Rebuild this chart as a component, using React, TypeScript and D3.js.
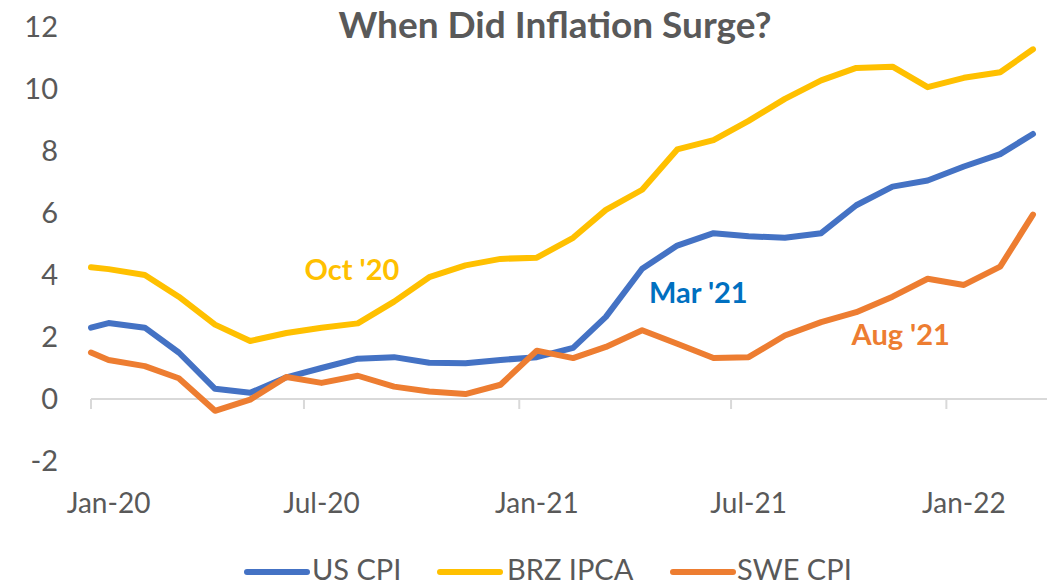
import React from "react";
import * as d3 from "d3";

const title = "When Did Inflation Surge?";

// observation dates (first point is Dec-19 reading plotted at axis start)
const dates = [
  "2020-01-01", "2020-01-16", "2020-02-16", "2020-03-16", "2020-04-16", "2020-05-16", "2020-06-16",
  "2020-07-16", "2020-08-16", "2020-09-16", "2020-10-16", "2020-11-16", "2020-12-16",
  "2021-01-16", "2021-02-16", "2021-03-16", "2021-04-16", "2021-05-16", "2021-06-16",
  "2021-07-16", "2021-08-16", "2021-09-16", "2021-10-16", "2021-11-16", "2021-12-16",
  "2022-01-16", "2022-02-16", "2022-03-16",
];

const usCPI = [2.3, 2.45, 2.3, 1.5, 0.33, 0.2, 0.7, 1.0, 1.3, 1.35, 1.17, 1.15, 1.26,
  1.35, 1.65, 2.65, 4.2, 4.95, 5.35, 5.25, 5.2, 5.35, 6.25, 6.85, 7.05, 7.5, 7.9, 8.55];
const brzIPCA = [4.25, 4.19, 4.0, 3.3, 2.4, 1.87, 2.13, 2.3, 2.44, 3.14, 3.93, 4.31, 4.52,
  4.56, 5.2, 6.1, 6.75, 8.05, 8.35, 8.97, 9.68, 10.28, 10.68, 10.72, 10.06, 10.36, 10.54, 11.28];
const sweCPI = [1.5, 1.26, 1.06, 0.67, -0.38, -0.02, 0.71, 0.52, 0.75, 0.4, 0.24, 0.16, 0.46,
  1.56, 1.32, 1.68, 2.22, 1.78, 1.32, 1.35, 2.05, 2.48, 2.8, 3.3, 3.88, 3.68, 4.27, 5.95];

const seriesNames = ["US CPI", "BRZ IPCA", "SWE CPI"];
const seriesColors = ["#4472C4", "#FFC000", "#ED7D31"];

const yTicks = [-2, 0, 2, 4, 6, 8, 10, 12];
const xTickDates = ["2020-01-01", "2020-07-01", "2021-01-01", "2021-07-01", "2022-01-01"];
const xTickLabels = ["Jan-20", "Jul-20", "Jan-21", "Jul-21", "Jan-22"];
const xLabelDates = ["2020-01-16", "2020-07-16", "2021-01-16", "2021-07-16", "2022-01-16"];

const annotations = [
  { text: "Oct '20", date: "2020-08-11", value: 3.84, color: "#FFC000" },
  { text: "Mar '21", date: "2021-06-03", value: 3.1, color: "#0070C0" },
  { text: "Aug '21", date: "2021-11-23", value: 1.74, color: "#ED7D31" },
];

const W = 1049;
const H = 586;
const FONT = "Lato, 'Open Sans', sans-serif";
const GRAY = "#595959";

export default function App() {
  const parse = d3.timeParse("%Y-%m-%d");
  const x = d3.scaleTime()
    .domain([parse("2020-01-01")!, parse("2022-03-28")!])
    .range([91, 1047]);
  const y = d3.scaleLinear().domain([0, 12]).range([399, 27]);

  const series = [usCPI, brzIPCA, sweCPI];
  const line = d3.line<number>()
    .x((_, i) => x(parse(dates[i])!))
    .y((d) => y(d));

  const legendItems = [
    { x0: 247, tx: 312 },
    { x0: 440, tx: 507 },
    { x0: 673, tx: 737 },
  ];

  return (
    <div style={{ position: "absolute", left: 0, top: 0 }}>
      <svg width={W} height={H} style={{ display: "block", background: "#fff" }}>
        <text x={555} y={38} textAnchor="middle" fontFamily={FONT} fontWeight={700}
          fontSize={37} fill={GRAY}>{title}</text>

        {yTicks.map((t) => (
          <text key={t} x={58} y={y(t)} dy="0.36em" textAnchor="end" fontFamily={FONT}
            fontSize={29} fill={GRAY}>{t}</text>
        ))}

        <line x1={x.range()[0]} x2={x.range()[1]} y1={y(0)} y2={y(0)} stroke="#D9D9D9" strokeWidth={2} />
        {xTickDates.map((d) => (
          <line key={d} x1={x(parse(d)!)} x2={x(parse(d)!)} y1={y(0)} y2={y(0) + 10}
            stroke="#D9D9D9" strokeWidth={2} />
        ))}
        {xLabelDates.map((d, i) => (
          <text key={d} x={x(parse(d)!)} y={513} textAnchor="middle" fontFamily={FONT}
            fontSize={28} fill={GRAY}>{xTickLabels[i]}</text>
        ))}

        {series.map((s, i) => (
          <path key={i} d={line(s)!} fill="none" stroke={seriesColors[i]} strokeWidth={6}
            strokeLinejoin="round" strokeLinecap="round" />
        ))}

        {annotations.map((a) => (
          <text key={a.text} x={x(parse(a.date)!)} y={y(a.value)} textAnchor="middle"
            fontFamily={FONT} fontWeight={700} fontSize={29} fill={a.color}>{a.text}</text>
        ))}

        {seriesNames.map((n, i) => (
          <g key={n}>
            <line x1={legendItems[i].x0} x2={legendItems[i].x0 + 60} y1={572} y2={572}
              stroke={seriesColors[i]} strokeWidth={6} strokeLinecap="round" />
            <text x={legendItems[i].tx} y={580} fontFamily={FONT} fontSize={29} fill={GRAY}>{n}</text>
          </g>
        ))}
      </svg>
    </div>
  );
}
